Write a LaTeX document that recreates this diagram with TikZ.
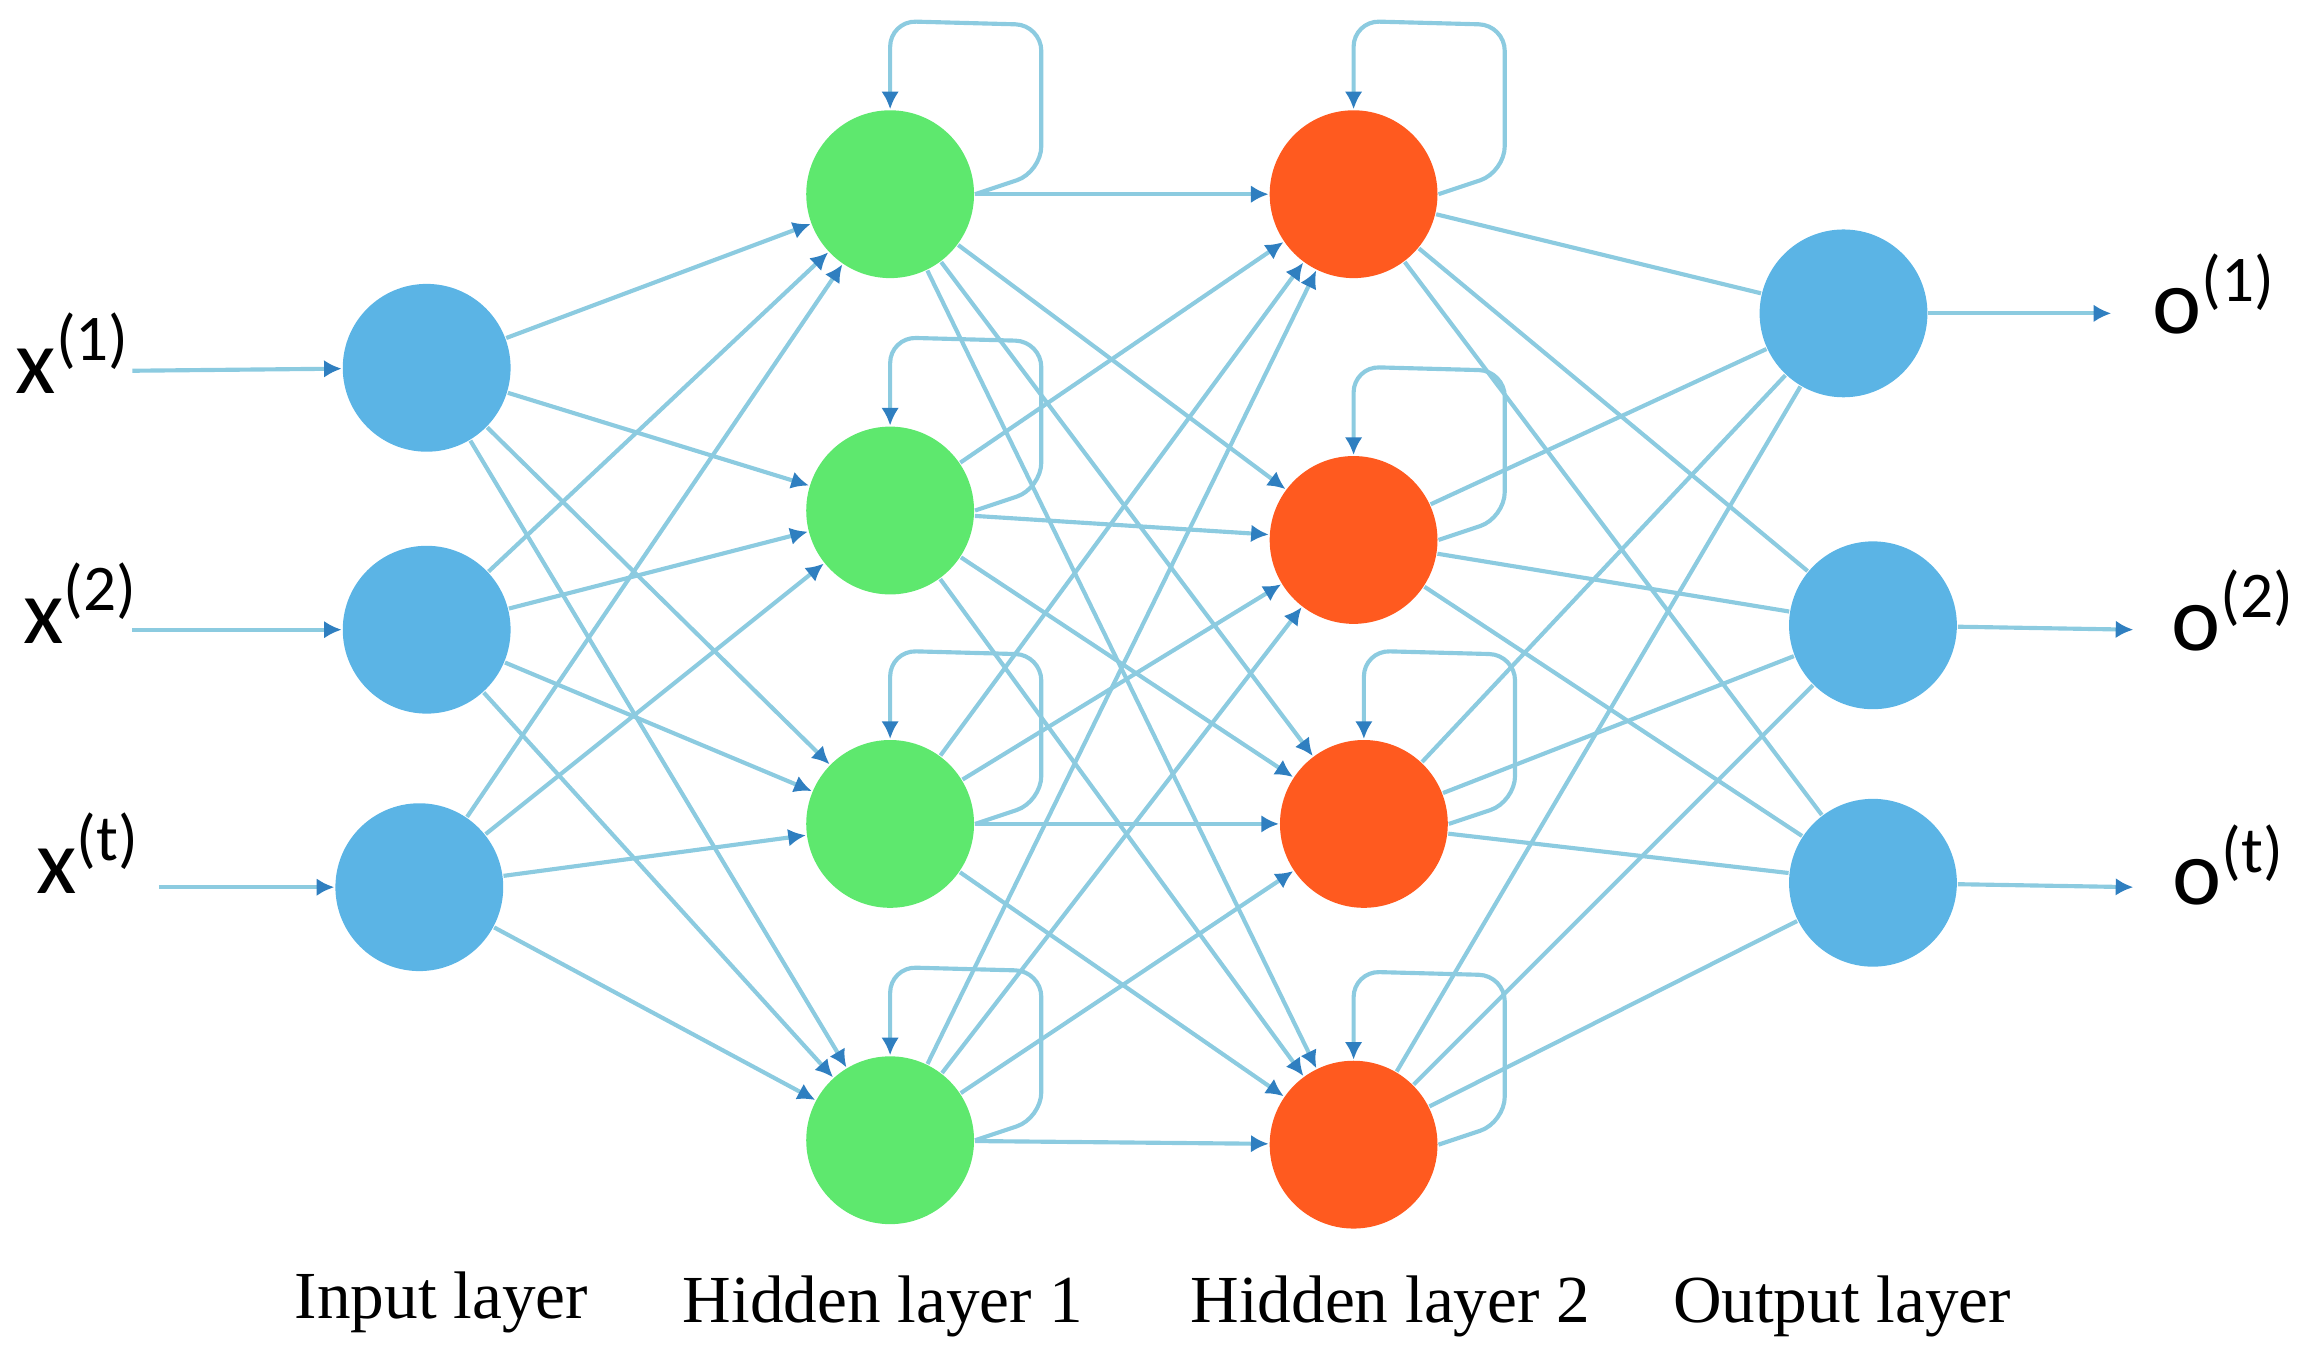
\documentclass[tikz,border=0pt]{standalone}
\usepackage{fontspec}
\setmainfont{Liberation Serif}
\newfontfamily\labelfont{Carlito}
\usetikzlibrary{arrows.meta, calc}
\definecolor{inBlue}{HTML}{5BB4E5}
\definecolor{hidGreen}{HTML}{5EE86E}
\definecolor{hidRed}{HTML}{FF5A1F}
\definecolor{wire}{HTML}{8CCBE0}
\definecolor{tipBlue}{HTML}{2F7FC0}
\tikzset{
  neuron/.style = {
    circle,
    minimum size=1.14cm,
    inner sep=0pt,
  },
  link/.style = {
    draw=wire,
    line width=0.8pt,
  },
  feed/.style = {
    link,
    -{Latex[length=1.2mm, width=1.2mm, color=tipBlue]},
  },
  layerName/.style = {
    font=\fontsize{13}{16}\selectfont,
  },
  varName/.style = {
    font=\labelfont\fontsize{18}{22}\selectfont,
  },
}
\begin{document}
\begin{tikzpicture}[x=0.01cm, y=-0.01cm]
\useasboundingbox (0,0) rectangle (1568,925);

% input layer
\node(In1)[neuron, fill=inBlue] at (290,250) {};
\node(In2)[neuron, fill=inBlue] at (290,428) {};
\node(In3)[neuron, fill=inBlue] at (285,603) {};

% hidden layer 1
\node(HA1)[neuron, fill=hidGreen] at (605,132) {};
\node(HA2)[neuron, fill=hidGreen] at (605,347) {};
\node(HA3)[neuron, fill=hidGreen] at (605,560) {};
\node(HA4)[neuron, fill=hidGreen] at (605,775) {};

% hidden layer 2
\node(HB1)[neuron, fill=hidRed] at (920,132) {};
\node(HB2)[neuron, fill=hidRed] at (920,367) {};
\node(HB3)[neuron, fill=hidRed] at (927,560) {};
\node(HB4)[neuron, fill=hidRed] at (920,778) {};

% output layer
\node(Out1)[neuron, fill=inBlue] at (1253,213) {};
\node(Out2)[neuron, fill=inBlue] at (1273,425) {};
\node(Out3)[neuron, fill=inBlue] at (1273,600) {};

% connections
\foreach \i in {1,2,3}
  \foreach \j in {1,...,4}
    \draw[feed] (In\i) -- (HA\j);
\foreach \i in {1,...,4}
  \foreach \j in {1,...,4}
    \draw[feed] (HA\i) -- (HB\j);
\foreach \i in {1,...,4}
  \foreach \j in {1,2,3}
    \draw[link] (HB\i) -- (Out\j);

% self loops
\foreach \n in {HA1,HA2,HA3,HA4,HB1,HB2,HB3,HB4}
  \draw[feed, rounded corners=5pt]
    (\n.east) -- ++(45,-15) -- ++(0,-100) -- ($(\n.north)+(0,-60)$)
    -- (\n.north);

% inputs
\node(X1)[varName] at (50,240) {x\textsuperscript{(1)}};
\node(X2)[varName] at (55,410) {x\textsuperscript{(2)}};
\node(X3)[varName] at (60,580) {x\textsuperscript{(t)}};
\coordinate(XS1) at (90,252);
\coordinate(XS2) at (90,428);
\coordinate(XS3) at (108,603);
\foreach \i in {1,2,3}
  \draw[feed] (XS\i) -- (In\i);

% outputs
\node(O1)[varName] at (1505,200) {o\textsuperscript{(1)}};
\node(O2)[varName] at (1518,415) {o\textsuperscript{(2)}};
\node(O3)[varName] at (1515,588) {o\textsuperscript{(t)}};
\coordinate(OE1) at (1435,213);
\coordinate(OE2) at (1450,428);
\coordinate(OE3) at (1450,603);
\foreach \i in {1,2,3}
  \draw[feed] (Out\i) -- (OE\i);

% layer names
\node(NameIn)[layerName] at (300,885) {Input layer};
\node(NameHA)[layerName] at (600,888) {Hidden layer 1};
\node(NameHB)[layerName] at (945,888) {Hidden layer 2};
\node(NameOut)[layerName] at (1252,888) {Output layer};
\end{tikzpicture}
\end{document}
